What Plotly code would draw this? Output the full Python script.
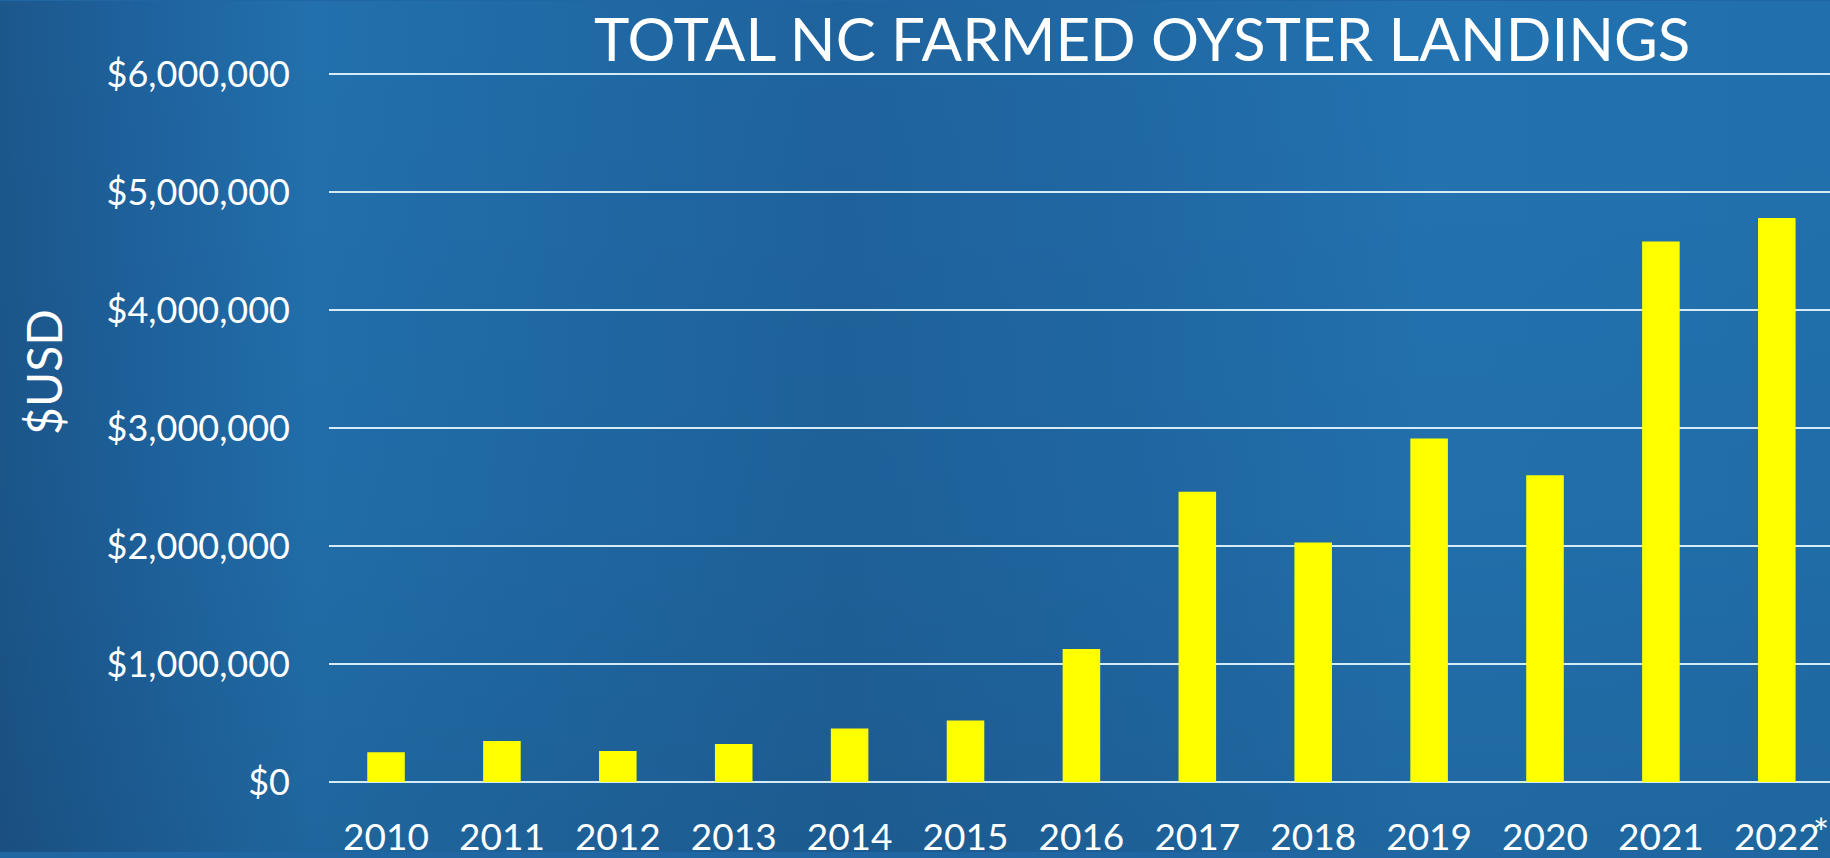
import base64
import plotly.graph_objects as go

# ---- data ----
years = ["2010", "2011", "2012", "2013", "2014", "2015", "2016",
         "2017", "2018", "2019", "2020", "2021", "2022"]
landings_usd = [252000, 347000, 263000, 322000, 454000, 521000, 1127000,
                2460000, 2030000, 2910000, 2600000, 4580000, 4780000]
y_tick_vals = [0, 1000000, 2000000, 3000000, 4000000, 5000000, 6000000]
y_tick_text = ["$0", "$1,000,000", "$2,000,000", "$3,000,000",
               "$4,000,000", "$5,000,000", "$6,000,000"]
title_text = "TOTAL NC FARMED OYSTER LANDINGS"
y_title = "$USD"
footnote_mark = "*"

# ---- geometry ----
W, H = 1830, 858
ML, MR, MT, MB = 329, 0, 67.5, 70.5
PW, PH = W - ML - MR, H - MT - MB

FONT = "Lato"
GRID = "#d4ecf8"

svg = f"""<svg xmlns='http://www.w3.org/2000/svg' width='{W}' height='{H}' viewBox='0 0 {W} {H}' preserveAspectRatio='none'>
<defs>
<linearGradient id='h' x1='0' y1='0' x2='1' y2='0'>
<stop offset='0' stop-color='#1c578c'/>
<stop offset='0.07' stop-color='#1e619c'/>
<stop offset='0.17' stop-color='#2270ad'/>
<stop offset='0.30' stop-color='#206aa6'/>
<stop offset='0.46' stop-color='#1f639d'/>
<stop offset='0.62' stop-color='#2069a5'/>
<stop offset='0.78' stop-color='#2372b0'/>
<stop offset='1' stop-color='#2170ad'/>
</linearGradient>
<linearGradient id='v' x1='0' y1='0' x2='0' y2='1'>
<stop offset='0' stop-color='#000' stop-opacity='0'/>
<stop offset='0.6' stop-color='#000' stop-opacity='0.03'/>
<stop offset='1' stop-color='#000' stop-opacity='0.09'/>
</linearGradient>
</defs>
<rect width='{W}' height='{H}' fill='url(#h)'/>
<rect width='{W}' height='{H}' fill='url(#v)'/>
</svg>"""
bg_src = "data:image/svg+xml;base64," + base64.b64encode(svg.encode()).decode()

fig = go.Figure()
fig.add_trace(go.Bar(
    x=years, y=landings_usd,
    marker=dict(color="#ffff00", line=dict(width=0)),
    hoverinfo="skip",
))

fig.update_layout(
    width=W, height=H,
    margin=dict(l=ML, r=MR, t=MT, b=MB, pad=0),
    paper_bgcolor="#1f66a2",
    plot_bgcolor="rgba(0,0,0,0)",
    bargap=0.676,
    showlegend=False,
    font=dict(family=FONT, color="white"),
    images=[dict(
        source=bg_src, xref="paper", yref="paper",
        x=-ML / PW, y=1 + MT / PH, sizex=W / PW, sizey=H / PH,
        xanchor="left", yanchor="top", sizing="stretch", layer="below",
    )],
    xaxis=dict(
        type="category", range=[-0.492, 12.459],
        showgrid=False, zeroline=False, showline=False, ticks="",
        tickfont=dict(family=FONT, size=37, color="white"),
        ticklabelstandoff=30,
    ),
    yaxis=dict(
        range=[0, 6050000],
        tickvals=y_tick_vals, ticktext=y_tick_text,
        showgrid=True, gridcolor=GRID, gridwidth=2,
        zeroline=True, zerolinecolor=GRID, zerolinewidth=2,
        showline=False, ticks="",
        tickfont=dict(family=FONT, size=36, color="white"),
        ticklabelstandoff=38,
    ),
    annotations=[
        dict(text=title_text, xref="paper", yref="paper",
             x=(1142 - ML) / PW, y=1 + (MT - 37) / PH,
             xanchor="center", yanchor="middle", showarrow=False,
             font=dict(family=FONT, size=60, color="white")),
        dict(text=y_title, xref="paper", yref="paper",
             x=(44 - ML) / PW, y=1 - (374 - MT) / PH,
             xanchor="center", yanchor="middle", showarrow=False,
             textangle=-90,
             font=dict(family=FONT, size=48, color="white")),
        dict(text=footnote_mark, xref="paper", yref="paper",
             x=(1821 - ML) / PW, y=1 - (838 - MT) / PH,
             xanchor="center", yanchor="middle", showarrow=False,
             font=dict(family=FONT, size=38, color="white")),
    ],
)

fig.write_html(
    "out.html",
    config={"displayModeBar": False},
    post_script="document.body.style.margin='0';document.body.style.overflow='hidden';",
)
